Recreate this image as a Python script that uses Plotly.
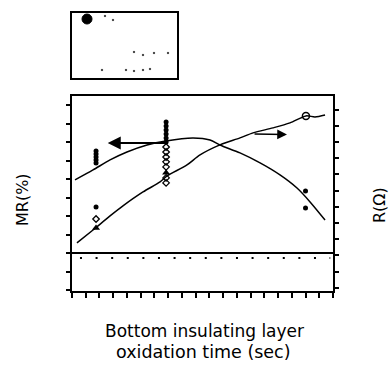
import plotly.graph_objects as go

# ---- data ----
# MR fitted curve (left axis)
mr_curve_x = [2.2, 15.3, 27.7, 40.0, 54.6, 68.4, 88.1, 100.5, 107.7, 122.3, 136.9, 151.4, 163.8, 173.3, 184.2]
mr_curve_y = [3.96, 4.50, 5.04, 5.47, 5.85, 6.07, 6.23, 6.12, 5.85, 5.42, 4.88, 4.23, 3.52, 2.77, 1.79]

# R fitted curve (right axis)
r_curve_x = [3.6, 15.3, 27.7, 37.1, 51.7, 64.1, 69.2, 83.7, 93.2, 107.7, 122.3, 131.8, 146.3, 158.7, 170.3, 176.9, 184.2]
r_curve_y = [2.77, 3.57, 4.44, 5.06, 5.92, 6.54, 6.91, 7.59, 8.21, 8.83, 9.26, 9.57, 9.88, 10.19, 10.62, 10.56, 10.68]

# MR measured points (filled circles, left axis)
mr_pts_x = [17.5, 17.5, 17.5, 17.5, 17.5, 17.5, 68.5, 68.5, 68.5, 68.5, 68.5, 68.5, 170.0, 170.0]
mr_pts_y = [5.52, 5.36, 5.20, 5.04, 4.88, 2.49, 7.09, 6.88, 6.66, 6.45, 6.23, 6.01, 3.36, 2.44]

# R measured points (open diamonds, right axis)
r_pts_x = [17.5, 68.5, 68.5, 68.5, 68.5, 68.5, 68.5, 68.5]
r_pts_y = [4.25, 8.70, 8.39, 8.08, 7.78, 7.47, 6.79, 6.48]

# R points (filled triangles, right axis)
r_tri_x = [17.5, 68.5]
r_tri_y = [3.70, 7.10]

# R point (open circle, right axis)
r_circ_x = [170.3]
r_circ_y = [10.62]

W, H = 390, 365
L, R_, T, B = 72, 57, 96, 74
PW, PH = W - L - R_, H - T - B


def px(x):
    return (x - L) / PW


def py(y):
    return (H - B - y) / PH


fig = go.Figure()
line_style = dict(color="black", width=1.5, shape="spline", smoothing=0.8)
fig.add_trace(go.Scatter(x=mr_curve_x, y=mr_curve_y, mode="lines", line=line_style, yaxis="y"))
fig.add_trace(go.Scatter(x=r_curve_x, y=r_curve_y, mode="lines", line=line_style, yaxis="y2"))
fig.add_trace(go.Scatter(x=mr_pts_x, y=mr_pts_y, mode="markers",
                         marker=dict(symbol="circle", size=5, color="black"), yaxis="y"))
fig.add_trace(go.Scatter(x=r_pts_x, y=r_pts_y, mode="markers",
                         marker=dict(symbol="diamond-open", size=5, color="black", line=dict(width=1.3)), yaxis="y2"))
fig.add_trace(go.Scatter(x=r_tri_x, y=r_tri_y, mode="markers",
                         marker=dict(symbol="triangle-up", size=7, color="black"), yaxis="y2"))
fig.add_trace(go.Scatter(x=r_circ_x, y=r_circ_y, mode="markers",
                         marker=dict(symbol="circle-open", size=7, color="black", line=dict(width=1.5)), yaxis="y2"))

axis_common = dict(showgrid=False, zeroline=False, showline=True, linecolor="black",
                   ticks="outside", tickcolor="black", showticklabels=False)

fig.update_layout(
    width=W, height=H,
    margin=dict(l=L, r=R_, t=T, b=B, pad=0),
    paper_bgcolor="white", plot_bgcolor="white",
    showlegend=False,
    xaxis=dict(range=[0, 190], tick0=0, dtick=10, ticklen=5, tickwidth=1.5, linewidth=2,
               mirror=True, **axis_common),
    yaxis=dict(range=[-2.05, 8.5], tick0=0, dtick=1, ticklen=4, tickwidth=1.5, linewidth=2,
               **axis_common),
    yaxis2=dict(range=[-0.2, 11.85], tick0=0, dtick=1, ticklen=4, tickwidth=1.5, linewidth=2,
                overlaying="y", side="right", **axis_common),
    font=dict(family="DejaVu Sans", color="black"),
)

# arrows
fig.add_annotation(x=26.0, y=5.96, ax=68.4, ay=5.96, xref="x", yref="y", axref="x", ayref="y",
                   text="", showarrow=True, arrowhead=2, arrowsize=1.3, arrowwidth=2, arrowcolor="black")
fig.add_annotation(x=156.5, y=9.47, ax=131.8, ay=9.50, xref="x", yref="y2", axref="x", ayref="y2",
                   text="", showarrow=True, arrowhead=2, arrowsize=1.3, arrowwidth=1.5, arrowcolor="black")

# zero line and dotted baseline
fig.add_shape(type="line", xref="paper", yref="y", x0=0, x1=1, y0=0, y1=0,
              line=dict(color="black", width=2))
fig.add_shape(type="line", xref="x", yref="y", x0=5.8, x1=188, y0=-0.27, y1=-0.27,
              line=dict(color="black", width=2, dash="2px,13.6px"))

# legend box (illegible legend)
fig.add_shape(type="rect", xref="paper", yref="paper", x0=px(71), x1=px(178), y0=py(79), y1=py(12),
              line=dict(color="black", width=2))
fig.add_shape(type="circle", xref="paper", yref="paper", x0=px(82), x1=px(92), y0=py(24), y1=py(14),
              line=dict(color="black", width=1), fillcolor="black")
for sx, sy in [(105, 16), (113, 20), (134, 52), (143, 55), (154, 53), (168, 53),
               (102, 70), (126, 70), (134, 71), (143, 70), (150, 69)]:
    fig.add_shape(type="circle", xref="paper", yref="paper", x0=px(sx - 0.8), x1=px(sx + 0.8),
                  y0=py(sy + 0.8), y1=py(sy - 0.8), line=dict(color="black", width=0.5), fillcolor="black")

# axis titles
fig.add_annotation(x=px(204), y=py(331), xref="paper", yref="paper", text="Bottom insulating layer",
                   showarrow=False, font=dict(size=17, family="DejaVu Sans"), xanchor="center", yanchor="middle")
fig.add_annotation(x=px(203), y=py(352), xref="paper", yref="paper", text="oxidation time (sec)",
                   showarrow=False, font=dict(size=17.5, family="DejaVu Sans"), xanchor="center", yanchor="middle")
fig.add_annotation(x=px(22), y=py(200), xref="paper", yref="paper", text="MR(%)", textangle=-90,
                   showarrow=False, font=dict(size=16, family="DejaVu Sans"), xanchor="center", yanchor="middle")
fig.add_annotation(x=px(379), y=py(205), xref="paper", yref="paper", text="R(Ω)", textangle=-90,
                   showarrow=False, font=dict(size=16, family="DejaVu Sans"), xanchor="center", yanchor="middle")

fig.write_html("out.html", config={"displayModeBar": False},
               post_script="document.body.style.margin='0px';document.body.style.overflow='hidden';")
